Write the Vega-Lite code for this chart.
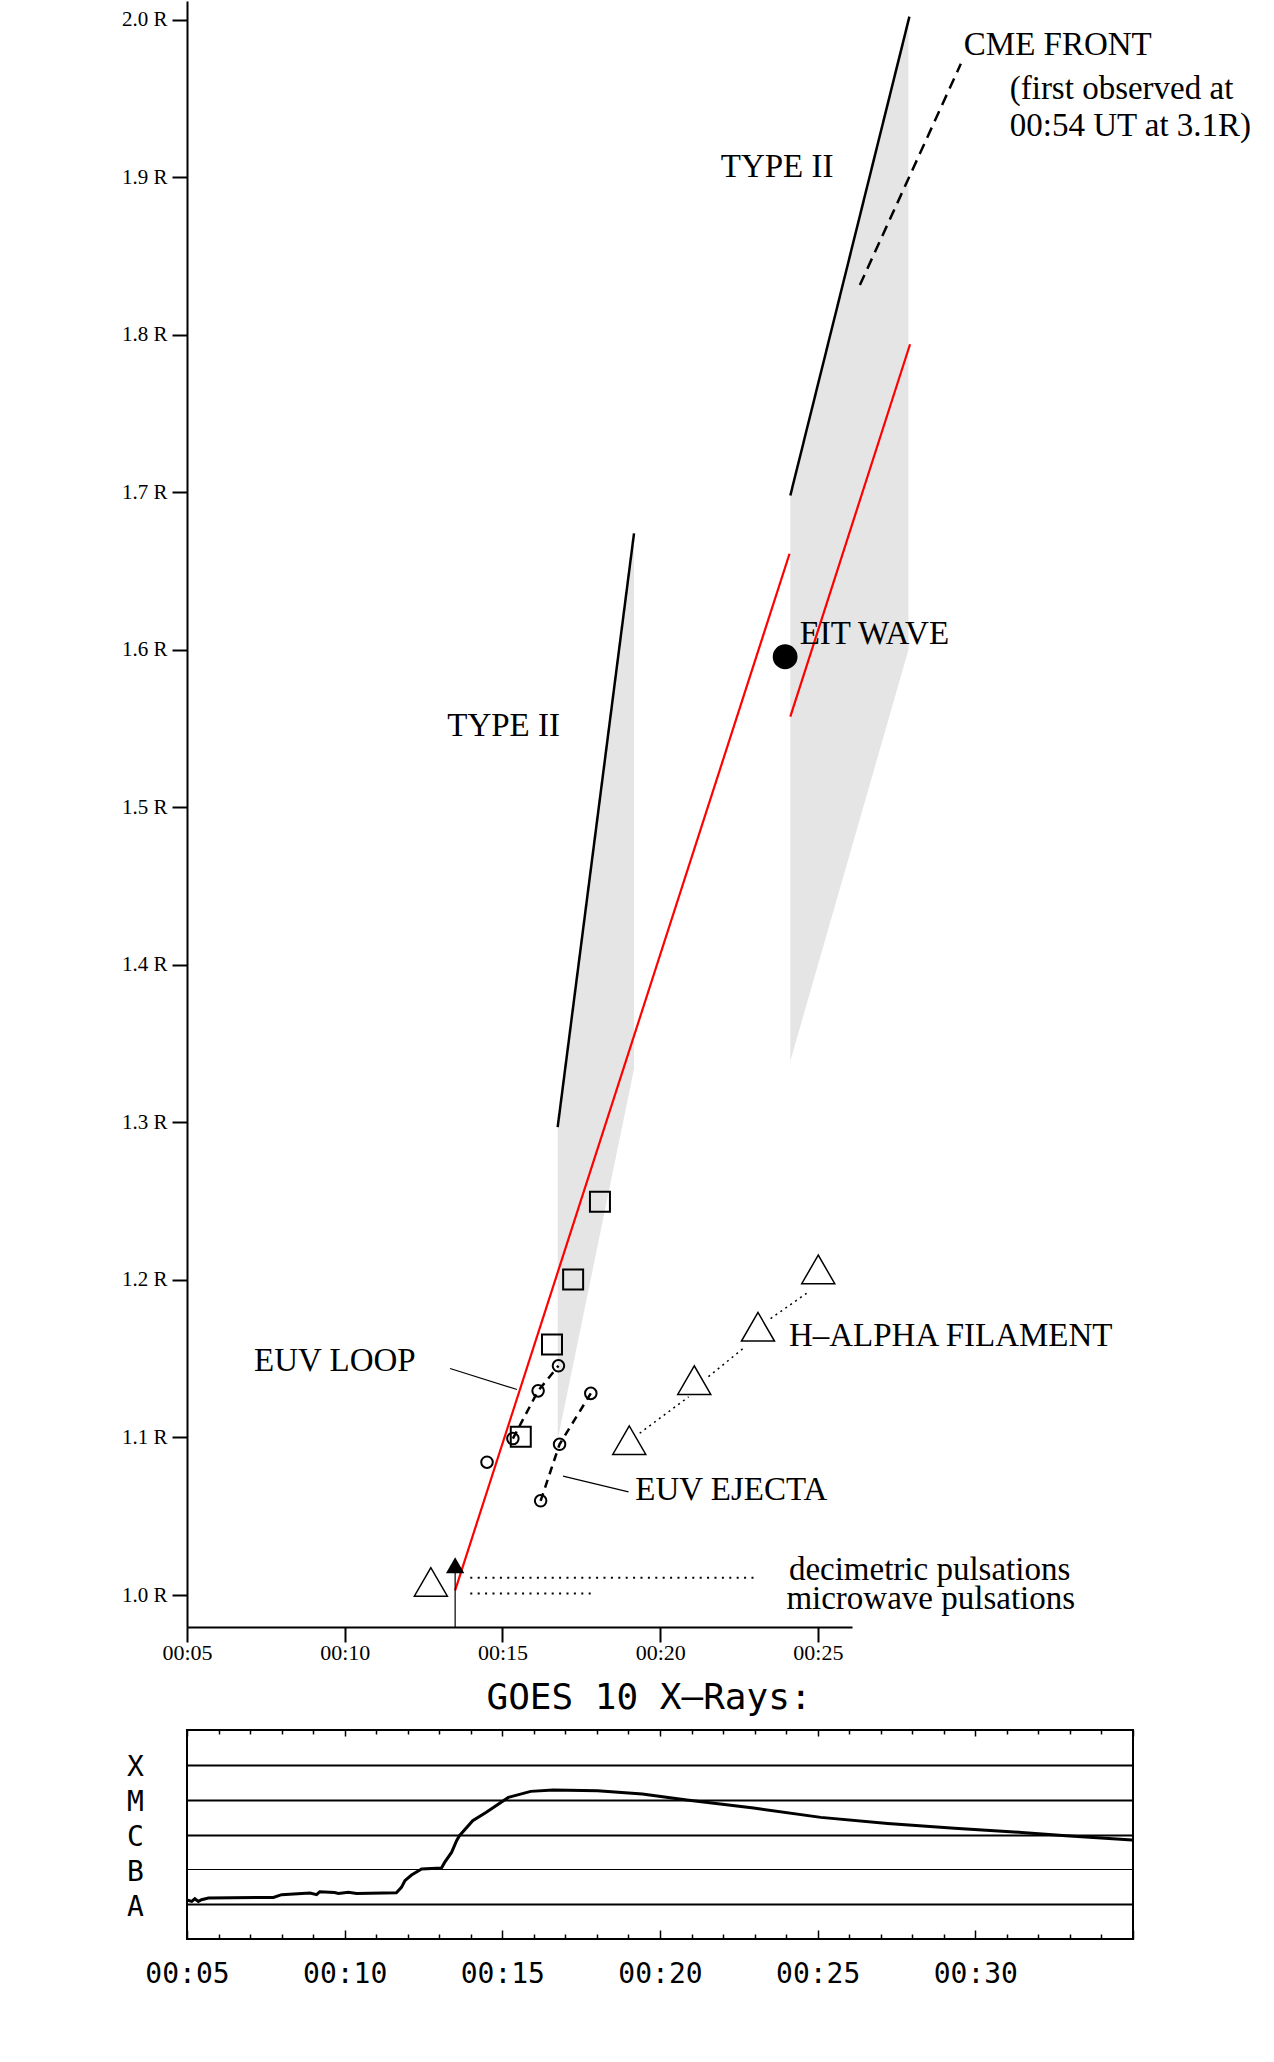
{
  "$schema": "https://vega.github.io/schema/vega-lite/v6.json",
  "background": "white",
  "padding": {"left": 121, "top": 1, "right": 5, "bottom": 5},
  "bounds": "flush",
  "spacing": 103,
  "config": {
    "view": {"stroke": null},
    "axis": {"labelColor": "black", "domainColor": "black", "tickColor": "black", "titleColor": "black"}
  },
  "datasets": {
    "shade": [
      {"grp": "a", "t": 16.75, "r": 1.0985, "r2": 1.297},
      {"grp": "a", "t": 19.17, "r": 1.334, "r2": 1.674},
      {"grp": "b", "t": 24.125, "r": 1.339, "r2": 1.698},
      {"grp": "b", "t": 27.87, "r": 1.6, "r2": 2.002}
    ],
    "tracks": [
      {"grp": "red1", "series": "EIT wave", "t": 13.5, "r": 1.003},
      {"grp": "red1", "series": "EIT wave", "t": 24.1, "r": 1.661},
      {"grp": "red2", "series": "EIT wave", "t": 24.125, "r": 1.5576},
      {"grp": "red2", "series": "EIT wave", "t": 27.92, "r": 1.794},
      {"grp": "t2a", "series": "Type II", "t": 16.75, "r": 1.297},
      {"grp": "t2a", "series": "Type II", "t": 19.17, "r": 1.674},
      {"grp": "t2b", "series": "Type II", "t": 24.125, "r": 1.698},
      {"grp": "t2b", "series": "Type II", "t": 27.9, "r": 2.002},
      {"grp": "cme", "series": "CME front", "t": 26.33, "r": 1.8316},
      {"grp": "cme", "series": "CME front", "t": 29.53, "r": 1.972},
      {"grp": "ejA", "series": "EUV ejecta", "t": 15.33, "r": 1.0993},
      {"grp": "ejA", "series": "EUV ejecta", "t": 16.13, "r": 1.1296},
      {"grp": "ejA", "series": "EUV ejecta", "t": 16.775, "r": 1.1455},
      {"grp": "ejB", "series": "EUV ejecta", "t": 16.21, "r": 1.0598},
      {"grp": "ejB", "series": "EUV ejecta", "t": 16.81, "r": 1.0957},
      {"grp": "ejB", "series": "EUV ejecta", "t": 17.8, "r": 1.128}
    ],
    "segments": [
      {"kind": "H-alpha", "t": 19.35, "r": 1.1027, "t2": 20.9, "r2": 1.1258},
      {"kind": "H-alpha", "t": 21.53, "r": 1.1386, "t2": 22.69, "r2": 1.1575},
      {"kind": "H-alpha", "t": 23.5, "r": 1.1755, "t2": 24.71, "r2": 1.1925},
      {"kind": "decimetric", "t": 13.98, "r": 1.0109, "t2": 22.99, "r2": 1.0109},
      {"kind": "microwave", "t": 13.98, "r": 1.001, "t2": 17.94, "r2": 1.001},
      {"kind": "pointer", "t": 13.34, "r": 1.1438, "t2": 15.46, "r2": 1.1305},
      {"kind": "pointer", "t": 16.92, "r": 1.0755, "t2": 18.995, "r2": 1.0655},
      {"kind": "pointer", "t": 13.5, "r": 0.9797, "t2": 13.5, "r2": 1.015}
    ],
    "points": [
      {"kind": "EUV loop", "t": 18.09, "r": 1.2496},
      {"kind": "EUV loop", "t": 17.24, "r": 1.2003},
      {"kind": "EUV loop", "t": 16.57, "r": 1.159},
      {"kind": "EUV loop", "t": 15.58, "r": 1.1004},
      {"kind": "EUV ejecta", "t": 16.775, "r": 1.1455},
      {"kind": "EUV ejecta", "t": 16.13, "r": 1.1296},
      {"kind": "EUV ejecta", "t": 15.33, "r": 1.0993},
      {"kind": "EUV ejecta", "t": 14.51, "r": 1.0843},
      {"kind": "EUV ejecta", "t": 17.8, "r": 1.128},
      {"kind": "EUV ejecta", "t": 16.81, "r": 1.0957},
      {"kind": "EUV ejecta", "t": 16.21, "r": 1.0598},
      {"kind": "H-alpha", "t": 25.01, "r": 1.2067},
      {"kind": "H-alpha", "t": 23.1, "r": 1.1703},
      {"kind": "H-alpha", "t": 21.08, "r": 1.1364},
      {"kind": "H-alpha", "t": 19.02, "r": 1.0983},
      {"kind": "H-alpha", "t": 12.73, "r": 1.0083},
      {"kind": "onset", "t": 13.5, "r": 1.0189},
      {"kind": "EIT wave", "t": 23.96, "r": 1.5956}
    ],
    "labels": [
      {"text": "CME FRONT", "t": 29.625, "r": 1.984},
      {"text": "(first observed at", "t": 31.08, "r": 1.9558},
      {"text": "00:54 UT at 3.1R)", "t": 31.08, "r": 1.9324},
      {"text": "TYPE II", "t": 21.92, "r": 1.9065},
      {"text": "EIT WAVE", "t": 24.42, "r": 1.6102},
      {"text": "TYPE II", "t": 13.25, "r": 1.5518},
      {"text": "H–ALPHA FILAMENT", "t": 24.08, "r": 1.1644},
      {"text": "EUV LOOP", "t": 7.125, "r": 1.1486},
      {"text": "EUV EJECTA", "t": 19.21, "r": 1.0668},
      {"text": "decimetric pulsations", "t": 24.08, "r": 1.0159},
      {"text": "microwave pulsations", "t": 24.0, "r": 0.9975}
    ],
    "goes": [
      {"t": 5.0, "flux": 1.32e-8},
      {"t": 5.15, "flux": 1.2e-8},
      {"t": 5.25, "flux": 1.43e-8},
      {"t": 5.36, "flux": 1.2e-8},
      {"t": 5.46, "flux": 1.34e-8},
      {"t": 5.68, "flux": 1.5e-8},
      {"t": 7.74, "flux": 1.56e-8},
      {"t": 8.0, "flux": 1.87e-8},
      {"t": 8.9, "flux": 2.09e-8},
      {"t": 9.11, "flux": 1.87e-8},
      {"t": 9.21, "flux": 2.28e-8},
      {"t": 9.68, "flux": 2.17e-8},
      {"t": 9.8, "flux": 2.04e-8},
      {"t": 10.12, "flux": 2.2e-8},
      {"t": 10.38, "flux": 2.04e-8},
      {"t": 11.64, "flux": 2.13e-8},
      {"t": 11.8, "flux": 3.03e-8},
      {"t": 11.91, "flux": 4.71e-8},
      {"t": 12.12, "flux": 6.87e-8},
      {"t": 12.44, "flux": 1.02e-7},
      {"t": 13.07, "flux": 1.09e-7},
      {"t": 13.17, "flux": 1.58e-7},
      {"t": 13.39, "flux": 3.06e-7},
      {"t": 13.55, "flux": 6.64e-7},
      {"t": 13.64, "flux": 9.23e-7},
      {"t": 14.06, "flux": 2.49e-6},
      {"t": 14.48, "flux": 4.31e-6},
      {"t": 15.19, "flux": 1.16e-5},
      {"t": 15.9, "flux": 1.73e-5},
      {"t": 16.61, "flux": 1.89e-5},
      {"t": 18.02, "flux": 1.81e-5},
      {"t": 19.44, "flux": 1.45e-5},
      {"t": 20.85, "flux": 9.77e-6},
      {"t": 22.97, "flux": 5.77e-6},
      {"t": 25.1, "flux": 3.1e-6},
      {"t": 27.22, "flux": 2.08e-6},
      {"t": 29.34, "flux": 1.5e-6},
      {"t": 31.47, "flux": 1.15e-6},
      {"t": 32.88, "flux": 9.23e-7},
      {"t": 34.97, "flux": 6.95e-7}
    ]
  },
  "vconcat": [
    {
      "width": 665,
      "height": 1626,
      "view": {"stroke": null},
      "encoding": {
        "x": {
          "field": "t", "type": "quantitative",
          "scale": {"domain": [5, 26.08], "nice": false, "zero": false},
          "axis": {
            "values": [5, 10, 15, 20, 25],
            "labelExpr": "'00:' + (datum.value < 10 ? '0' : '') + datum.value",
            "title": null, "grid": false,
            "domainWidth": 2, "tickWidth": 2, "tickSize": 15,
            "labelFont": "Liberation Serif", "labelFontSize": 22, "labelPadding": 0, "labelFlush": false
          }
        },
        "y": {
          "field": "r", "type": "quantitative",
          "scale": {"domain": [0.9797, 2.0119], "nice": false, "zero": false},
          "axis": {
            "values": [1.0, 1.1, 1.2, 1.3, 1.4, 1.5, 1.6, 1.7, 1.8, 1.9, 2.0],
            "labelExpr": "format(datum.value, '.1f') + ' R'",
            "title": null, "grid": false,
            "domainWidth": 2, "tickWidth": 2, "tickSize": 15,
            "labelFont": "Liberation Serif", "labelFontSize": 21, "labelPadding": 5, "labelFlush": false
          }
        }
      },
      "layer": [
        {
          "data": {"name": "shade"},
          "mark": {"type": "area", "color": "#e5e5e5", "opacity": 1},
          "encoding": {"y2": {"field": "r2"}, "detail": {"field": "grp"}}
        },
        {
          "data": {"name": "tracks"},
          "transform": [{"filter": "datum.series == 'EIT wave'"}],
          "mark": {"type": "line", "color": "#ff0000", "strokeWidth": 2.2},
          "encoding": {"detail": {"field": "grp"}}
        },
        {
          "data": {"name": "tracks"},
          "transform": [{"filter": "datum.series == 'Type II'"}],
          "mark": {"type": "line", "color": "black", "strokeWidth": 2.5},
          "encoding": {"detail": {"field": "grp"}}
        },
        {
          "data": {"name": "tracks"},
          "transform": [{"filter": "datum.series == 'CME front'"}],
          "mark": {"type": "line", "color": "black", "strokeWidth": 2.5, "strokeDash": [11, 7]},
          "encoding": {"detail": {"field": "grp"}}
        },
        {
          "data": {"name": "tracks"},
          "transform": [{"filter": "datum.series == 'EUV ejecta'"}],
          "mark": {"type": "line", "color": "black", "strokeWidth": 2.5, "strokeDash": [8, 6]},
          "encoding": {"detail": {"field": "grp"}}
        },
        {
          "data": {"name": "segments"},
          "transform": [{"filter": "datum.kind == 'H-alpha'"}],
          "mark": {"type": "rule", "color": "black", "strokeWidth": 1.5, "strokeDash": [2, 4]},
          "encoding": {"x2": {"field": "t2"}, "y2": {"field": "r2"}}
        },
        {
          "data": {"name": "segments"},
          "transform": [{"filter": "datum.kind == 'decimetric' || datum.kind == 'microwave'"}],
          "mark": {"type": "rule", "color": "black", "strokeWidth": 2, "strokeDash": [2, 5.4]},
          "encoding": {"x2": {"field": "t2"}, "y2": {"field": "r2"}}
        },
        {
          "data": {"name": "segments"},
          "transform": [{"filter": "datum.kind == 'pointer'"}],
          "mark": {"type": "rule", "color": "black", "strokeWidth": 1.2},
          "encoding": {"x2": {"field": "t2"}, "y2": {"field": "r2"}}
        },
        {
          "data": {"name": "points"},
          "transform": [{"filter": "datum.kind == 'EUV loop'"}],
          "mark": {"type": "point", "shape": "square", "size": 400, "filled": false, "color": "black", "strokeWidth": 2, "opacity": 1}
        },
        {
          "data": {"name": "points"},
          "transform": [{"filter": "datum.kind == 'EUV ejecta'"}],
          "mark": {"type": "point", "shape": "circle", "size": 133, "filled": false, "color": "black", "strokeWidth": 2, "opacity": 1}
        },
        {
          "data": {"name": "points"},
          "transform": [{"filter": "datum.kind == 'H-alpha'"}],
          "mark": {"type": "point", "shape": "triangle-up", "size": 1090, "filled": false, "color": "black", "strokeWidth": 1.5, "opacity": 1}
        },
        {
          "data": {"name": "points"},
          "transform": [{"filter": "datum.kind == 'onset'"}],
          "mark": {"type": "point", "shape": "triangle-up", "size": 335, "filled": true, "color": "black", "opacity": 1}
        },
        {
          "data": {"name": "points"},
          "transform": [{"filter": "datum.kind == 'EIT wave'"}],
          "mark": {"type": "point", "shape": "circle", "size": 616, "filled": true, "color": "black", "opacity": 1}
        },
        {
          "data": {"name": "labels"},
          "mark": {"type": "text", "align": "left", "baseline": "middle", "font": "Liberation Serif", "fontSize": 33, "color": "black"},
          "encoding": {"text": {"field": "text"}}
        }
      ]
    },
    {
      "width": 946,
      "height": 209,
      "view": {"stroke": "black", "strokeWidth": 2},
      "title": {
        "text": "GOES 10 X–Rays:", "font": "DejaVu Sans Mono", "fontSize": 36, "fontWeight": "normal",
        "color": "black", "anchor": "middle", "frame": "group", "offset": -16, "baseline": "alphabetic", "dx": -11
      },
      "data": {"name": "goes"},
      "resolve": {"axis": {"x": "independent", "y": "independent"}},
      "layer": [
        {
          "mark": {"type": "line", "color": "black", "strokeWidth": 3},
          "encoding": {
            "x": {
              "field": "t", "type": "quantitative",
              "scale": {"domain": [5, 35], "nice": false, "zero": false},
              "axis": {
                "orient": "bottom",
                "values": [5, 6, 7, 8, 9, 10, 11, 12, 13, 14, 15, 16, 17, 18, 19, 20, 21, 22, 23, 24, 25, 26, 27, 28, 29, 30, 31, 32, 33, 34, 35],
                "labelExpr": "datum.value % 5 == 0 && datum.value < 35 ? '00:' + (datum.value < 10 ? '0' : '') + datum.value : ''",
                "title": null, "grid": false, "domain": false,
                "tickWidth": 1.5, "tickSize": {"condition": {"test": "datum.value % 5 == 0", "value": -9}, "value": -5},
                "labelFont": "DejaVu Sans Mono", "labelFontSize": 28, "labelPadding": 30, "labelFlush": false, "labelOverlap": false
              }
            },
            "y": {
              "field": "flux", "type": "quantitative",
              "scale": {"type": "log", "domain": [1e-9, 1e-3], "nice": false},
              "axis": {
                "values": [1e-8, 1e-7, 1e-6, 1e-5, 1e-4],
                "labelExpr": "datum.value > 5e-5 ? 'X' : datum.value > 5e-6 ? 'M' : datum.value > 5e-7 ? 'C' : datum.value > 5e-8 ? 'B' : 'A'",
                "title": null, "domain": false, "ticks": false,
                "grid": true, "gridColor": "black", "gridOpacity": 1,
                "gridWidth": {"condition": {"test": "datum.value > 5e-8 && datum.value < 5e-7", "value": 1}, "value": 2.2},
                "labelFont": "DejaVu Sans Mono", "labelFontSize": 28, "labelAlign": "center", "labelBaseline": "middle",
                "labelPadding": 52, "labelOffset": 3, "labelOverlap": false
              }
            }
          }
        },
        {
          "mark": {"type": "line", "opacity": 0},
          "encoding": {
            "x": {
              "field": "t", "type": "quantitative",
              "scale": {"domain": [5, 35], "nice": false, "zero": false},
              "axis": {
                "orient": "top",
                "values": [5, 6, 7, 8, 9, 10, 11, 12, 13, 14, 15, 16, 17, 18, 19, 20, 21, 22, 23, 24, 25, 26, 27, 28, 29, 30, 31, 32, 33, 34, 35],
                "labels": false, "title": null, "grid": false, "domain": false,
                "tickWidth": 1.5, "tickSize": {"condition": {"test": "datum.value % 5 == 0", "value": -6}, "value": -4}
              }
            },
            "y": {
              "field": "flux", "type": "quantitative",
              "scale": {"type": "log", "domain": [1e-9, 1e-3], "nice": false},
              "axis": null
            }
          }
        }
      ]
    }
  ]
}
